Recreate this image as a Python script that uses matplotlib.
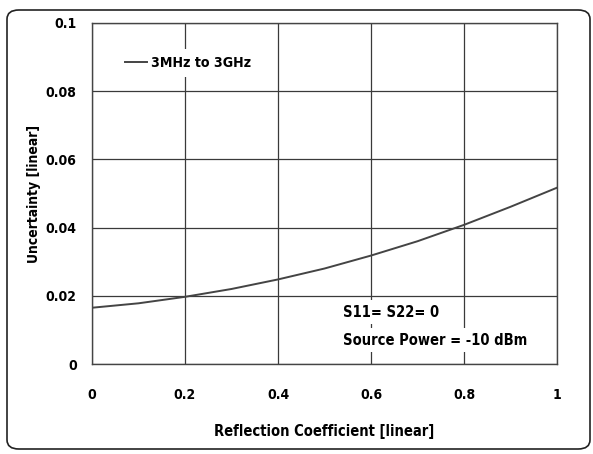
import numpy as np
import matplotlib.pyplot as plt
from matplotlib.patches import FancyBboxPatch

# Data
refl_coef = [0.0, 0.1, 0.2, 0.3, 0.4, 0.5, 0.6, 0.7, 0.8, 0.9, 1.0]
uncertainty = [0.0165, 0.0178, 0.0197, 0.0220, 0.0248, 0.0280, 0.0318, 0.0360, 0.0408, 0.0461, 0.0517]

x_ticks = [0, 0.2, 0.4, 0.6, 0.8, 1]
x_ticklabels = ["0", "0.2", "0.4", "0.6", "0.8", "1"]
y_ticks = [0, 0.02, 0.04, 0.06, 0.08, 0.1]
y_ticklabels = ["0", "0.02", "0.04", "0.06", "0.08", "0.1"]

plt.rcParams['font.family'] = ['DejaVu Sans']
plt.rcParams['font.stretch'] = 'condensed'
plt.rcParams['font.weight'] = 'bold'

W, H = 593, 454
fig = plt.figure(figsize=(W / 100, H / 100), dpi=100)

# rounded outer frame
frame = FancyBboxPatch((7 / W, 5 / H), 583 / W, 439 / H,
                       boxstyle="round,pad=0,rounding_size=0.02",
                       transform=fig.transFigure, fill=False,
                       edgecolor='#222222', linewidth=1.2)
fig.patches.append(frame)

ax = fig.add_axes([92 / W, (H - 364) / H, 465 / W, 341 / H])
ax.plot(refl_coef, uncertainty, color='#444444', linewidth=1.4, label='3MHz to 3GHz')

ax.set_xlim(0, 1)
ax.set_ylim(0, 0.1)
ax.set_xticks(x_ticks)
ax.set_xticklabels(x_ticklabels)
ax.set_yticks(y_ticks)
ax.set_yticklabels(y_ticklabels)
ax.tick_params(axis='x', length=0, labelsize=10, pad=17)
ax.tick_params(axis='y', length=0, labelsize=10, pad=11)
ax.grid(True, color='#3a3a3a', linewidth=0.9)
ax.set_axisbelow(True)
for s in ax.spines.values():
    s.set_color('#444444')
    s.set_linewidth(1.0)

ax.set_xlabel('Reflection Coefficient [linear]', fontsize=10.5, fontweight='bold', labelpad=16)
ax.set_ylabel('Uncertainty [linear]', fontsize=10, fontweight='bold')
ax.yaxis.set_label_coords(-(92 - 41) / 465, 0.5)

leg = ax.legend(loc='upper left', bbox_to_anchor=(0.04, 0.945), frameon=True,
                fancybox=False, edgecolor='none', framealpha=1, fontsize=10.2,
                handlelength=1.6, handletextpad=0.25, borderpad=0.5)

ax.text(0.54, 0.152, 'S11= S22= 0', transform=ax.transAxes, fontsize=10.5,
        fontweight='bold', va='center', ha='left', zorder=5,
        bbox=dict(facecolor='white', edgecolor='none', pad=3))
ax.text(0.54, 0.07, 'Source Power = -10 dBm', transform=ax.transAxes, fontsize=10.5,
        fontweight='bold', va='center', ha='left', zorder=5,
        bbox=dict(facecolor='white', edgecolor='none', pad=3))

fig.savefig('out.png', dpi=100)
